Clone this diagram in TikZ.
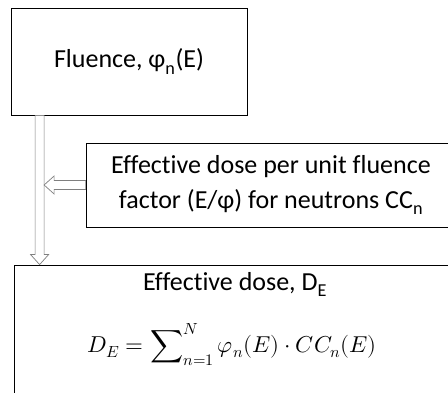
\documentclass[tikz,border=0pt]{standalone}
\usepackage{fontspec}
\usepackage{unicode-math}
\setmainfont{Carlito}[Ligatures=NoCommon]
\setmathfont{Latin Modern Math}
\usetikzlibrary{calc,positioning}
\definecolor{ink}{HTML}{000000}
\definecolor{arrowgray}{HTML}{7F7F7F}
\newcommand{\shaft}{4.5}
\newcommand{\wing}{9}
\newcommand{\headlen}{10}
% hollow block arrow, pointing down from #1 to #2
\newcommand{\hollowdown}[2]{%
  \draw[hollow] let \p1=(#1), \p2=(#2) in
    ({\x1-\shaft pt},\y1) -- ({\x1-\shaft pt},{\y2+\headlen pt}) -- ({\x1-\wing pt},{\y2+\headlen pt})
    -- (\x1,\y2) -- ({\x1+\wing pt},{\y2+\headlen pt}) -- ({\x1+\shaft pt},{\y2+\headlen pt})
    -- ({\x1+\shaft pt},\y1) -- cycle;}
% hollow block arrow, pointing left from #1 to #2
\newcommand{\hollowleft}[2]{%
  \draw[hollow] let \p1=(#1), \p2=(#2) in
    (\x1,{\y1+\shaft pt}) -- ({\x2+\headlen pt},{\y1+\shaft pt}) -- ({\x2+\headlen pt},{\y1+\wing pt})
    -- (\x2,\y1) -- ({\x2+\headlen pt},{\y1-\wing pt}) -- ({\x2+\headlen pt},{\y1-\shaft pt})
    -- (\x1,{\y1-\shaft pt}) -- cycle;}

\begin{document}
\begin{tikzpicture}[x=1pt, y=1pt, line cap=round,
  box/.style={draw=ink, line width=.8pt, fill=white, inner sep=0pt, align=center,
    font=\fontsize{26}{31}\selectfont},
  hollow/.style={draw=arrowgray, line width=.7pt, fill=white, line join=miter}]
\useasboundingbox (0,0) rectangle (448,393);

% ================= boxes =================
\node[box, minimum width=236pt, minimum height=107pt] (flu) at (129,331.5)
  {Fluence, φ\textsubscript{n}(E)};
\node[box, minimum width=370pt, minimum height=84pt] (cc) at (271,208)
  {Effective dose per unit fluence\\[4pt] factor (E/φ) for neutrons CC\textsubscript{n}};
\node[box, minimum width=442pt, minimum height=150pt] (dose) at (235,53) {};

% text of the effective dose box
\node[font=\fontsize{26}{31}\selectfont] (dosetitle) at ($(dose.north)+(0,-20)$)
  {Effective dose, D\textsubscript{E}};
\node[font=\fontsize{23}{28}\selectfont] (dosesum) at ($(dose.north)+(-3,-80)$)
  {$\displaystyle D_E=\sum\nolimits_{n=1}^{N}\varphi_n(E)\cdot CC_n(E)$};

% ================= arrows =================
\coordinate (vtop) at ($(flu.south west)+(29,0)$);
\coordinate (vtip) at (vtop |- dose.north);
\coordinate (htip) at ($(vtop |- cc.west)+(\shaft,0)$);
\hollowdown{vtop}{vtip}
\hollowleft{cc.west}{htip}

\end{tikzpicture}
\end{document}
